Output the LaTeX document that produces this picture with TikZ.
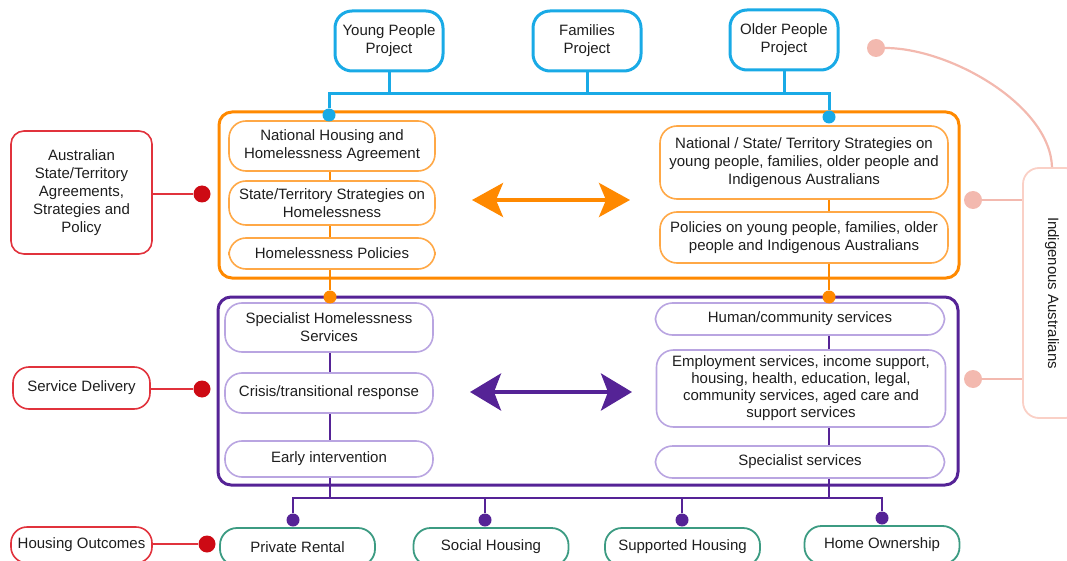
\documentclass[tikz,border=0pt]{standalone}
\usepackage{fontspec}
\setmainfont{Liberation Sans}
\usetikzlibrary{arrows.meta}
\definecolor{cblue}{RGB}{25,170,230}
\definecolor{corange}{RGB}{255,137,0}
\definecolor{corangel}{RGB}{255,168,70}
\definecolor{cpurple}{RGB}{85,35,150}
\definecolor{cpurplel}{RGB}{185,165,225}
\definecolor{cred}{RGB}{225,50,60}
\definecolor{creddot}{RGB}{205,10,20}
\definecolor{cpink}{RGB}{243,185,175}
\definecolor{cpinkl}{RGB}{250,208,198}
\definecolor{cgreen}{RGB}{60,155,130}
\definecolor{ctext}{RGB}{30,30,30}
\tikzset{
  otip/.tip={Stealth[length=31pt,width=34pt,inset=7pt]},
  ptip/.tip={Stealth[length=31pt,width=37pt,inset=7pt]}
}
\begin{document}
\begin{tikzpicture}[x=1pt,y=-1pt,
  every node/.style={font=\fontsize{15}{18}\selectfont, text=ctext, align=center, inner sep=0pt},
  bluebox/.style={draw=cblue, line width=3pt, rounded corners=17pt, minimum width=108pt, minimum height=60pt},
  obox/.style={draw=corangel, line width=1.6pt, rounded corners=17pt},
  pbox/.style={draw=cpurplel, line width=1.6pt, rounded corners=17pt},
  redbox/.style={draw=cred, line width=1.6pt, rounded corners=#1},
  greenbox/.style={draw=cgreen, line width=1.8pt, rounded corners=17pt, minimum width=155pt, minimum height=38pt},
  dot/.style={circle, fill=#1, minimum size=13pt, inner sep=0pt},
  blueline/.style={draw=cblue, line width=3pt},
  orangeline/.style={draw=corange, line width=2.5pt},
  purpleline/.style={draw=cpurple, line width=2.5pt},
  redline/.style={draw=cred, line width=2.5pt},
  pinkline/.style={draw=cpink, line width=2.2pt}
]
\useasboundingbox (0,0) rectangle (1067,561);
\clip (0,0) rectangle (1067,561);

% helper coordinates
\coordinate (busY) at (0,94);
\coordinate (pbus) at (0,498);
\coordinate (lx) at (330,0);
\coordinate (rx) at (829,0);

% top projects
\node[bluebox] (young) at (389,41) {Young People\\Project};
\node[bluebox] (fam) at (587,41) {Families\\Project};
\node[bluebox] (old) at (784,40) {Older People\\Project};

% frames
\node[draw=corange, line width=3pt, rounded corners=13pt, minimum width=740pt, minimum height=166pt] (ofr) at (589,195) {};
\node[draw=cpurple, line width=3pt, rounded corners=13pt, minimum width=740pt, minimum height=188pt] (pfr) at (588,391) {};

% orange left
\node[obox, minimum width=206pt, minimum height=50pt] (nhha) at (332,146) {National Housing and\\Homelessness Agreement};
\node[obox, minimum width=206pt, minimum height=44pt] (stt) at (332,203) {State/Territory Strategies on\\Homelessness};
\node[obox, minimum width=206pt, minimum height=31pt] (hp) at (332,253.5) {Homelessness Policies};
% orange right
\node[obox, minimum width=288pt, minimum height=73pt] (nst) at (804,162.5) {National / State/ Territory Strategies on\\young people, families, older people and\\Indigenous Australians};
\node[obox, minimum width=288pt, minimum height=51pt] (pol) at (804,237.5) {Policies on young people, families, older\\people and Indigenous Australians};

% purple left
\node[pbox, minimum width=208pt, minimum height=49pt] (shs) at (329,327.5) {Specialist Homelessness\\Services};
\node[pbox, minimum width=208pt, minimum height=40pt] (cri) at (329,393) {Crisis/transitional response};
\node[pbox, minimum width=208pt, minimum height=36pt] (early) at (329,459) {Early intervention};
% purple right
\node[pbox, minimum width=289pt, minimum height=32pt] (hum) at (800,319) {Human/community services};
\node[pbox, minimum width=289pt, minimum height=77pt, font=\fontsize{15}{17}\selectfont] (emp) at (801,388.5) {Employment services, income support,\\housing, health, education, legal,\\community services, aged care and\\support services};
\node[pbox, minimum width=289pt, minimum height=32pt] (spec) at (800,462) {Specialist services};

% red side labels
\node[redbox=13pt, minimum width=141pt, minimum height=123pt] (asa) at (81.5,192.5) {Australian\\State/Territory\\Agreements,\\Strategies and\\Policy};
\node[redbox=16pt, minimum width=137pt, minimum height=42pt] (sd) at (81.5,388) {Service Delivery};
\node[redbox=16pt, minimum width=141pt, minimum height=36pt] (ho) at (81.5,545) {Housing Outcomes};

% housing outcomes
\node[greenbox] (pr) at (297.5,547) {Private Rental};
\node[greenbox] (sh) at (491,547) {Social Housing};
\node[greenbox] (sup) at (682.5,547) {Supported Housing};
\node[greenbox] (hown) at (882,545) {Home Ownership};

% indigenous
\node[draw=cpinkl, line width=1.8pt, rounded corners=16pt, rotate=-90, minimum width=250pt, minimum height=58pt] (indig) at (1052,293) {Indigenous Australians};

% dots
\node[dot=cblue] (bL) at (329,115) {};
\node[dot=cblue] (bR) at (829,117) {};
\node[dot=corange] (oL) at (330,297) {};
\node[dot=corange] (oR) at (829,297) {};
\node[dot=cpurple] (g1) at (293,520) {};
\node[dot=cpurple] (g2) at (485,520) {};
\node[dot=cpurple] (g3) at (682,520) {};
\node[dot=cpurple] (g4) at (882,518) {};
\node[dot=creddot, minimum size=17pt] (r1) at (202,194) {};
\node[dot=creddot, minimum size=17pt] (r2) at (202,389) {};
\node[dot=creddot, minimum size=17pt] (r3) at (207,544) {};
\node[dot=cpink, minimum size=18pt] (p1) at (876,48) {};
\node[dot=cpink, minimum size=18pt] (p2) at (973,200) {};
\node[dot=cpink, minimum size=18pt] (p3) at (973,379) {};

% blue connectors
\draw[blueline] (bL) -- (bL |- busY) -- (bR |- busY) -- (bR);
\draw[blueline] (young) -- (young |- busY);
\draw[blueline] (fam) -- (fam |- busY);
\draw[blueline] (old) -- (old |- busY);

% orange connectors
\draw[orangeline] (nhha.south -| lx) -- (stt.north -| lx);
\draw[orangeline] (stt.south -| lx) -- (hp.north -| lx);
\draw[orangeline] (hp.south -| lx) -- (oL);
\draw[orangeline] (nst.south -| rx) -- (pol.north -| rx);
\draw[orangeline] (pol.south -| rx) -- (oR);

% purple connectors
\draw[purpleline] (shs.south -| lx) -- (cri.north -| lx);
\draw[purpleline] (cri.south -| lx) -- (early.north -| lx);
\draw[purpleline] (hum.south -| rx) -- (emp.north -| rx);
\draw[purpleline] (emp.south -| rx) -- (spec.north -| rx);
\draw[purpleline] (early.south -| lx) -- (lx |- pbus);
\draw[purpleline] (spec.south -| rx) -- (rx |- pbus);
\draw[purpleline] (g1) -- (g1 |- pbus) -- (g4 |- pbus) -- (g4);
\draw[purpleline] (g2) -- (g2 |- pbus);
\draw[purpleline] (g3) -- (g3 |- pbus);

% red connectors
\draw[redline] (asa.east |- r1) -- (r1);
\draw[redline] (sd.east |- r2) -- (r2);
\draw[redline] (ho.east |- r3) -- (r3);

% pink connectors
\draw[pinkline] (p2) -- (p2 -| indig.south);
\draw[pinkline] (p3) -- (p3 -| indig.south);
\draw[pinkline] (p1) .. controls (950,48) and (1050,105) .. (indig.west);

% double arrows
\coordinate (oa1) at (472,200);
\coordinate (oa2) at (630,200);
\draw[corange, line width=4pt, otip-otip] (oa1) -- (oa2);
\coordinate (pa1) at (470,392);
\coordinate (pa2) at (632,392);
\draw[cpurple, line width=4pt, ptip-ptip] (pa1) -- (pa2);
\end{tikzpicture}
\end{document}
